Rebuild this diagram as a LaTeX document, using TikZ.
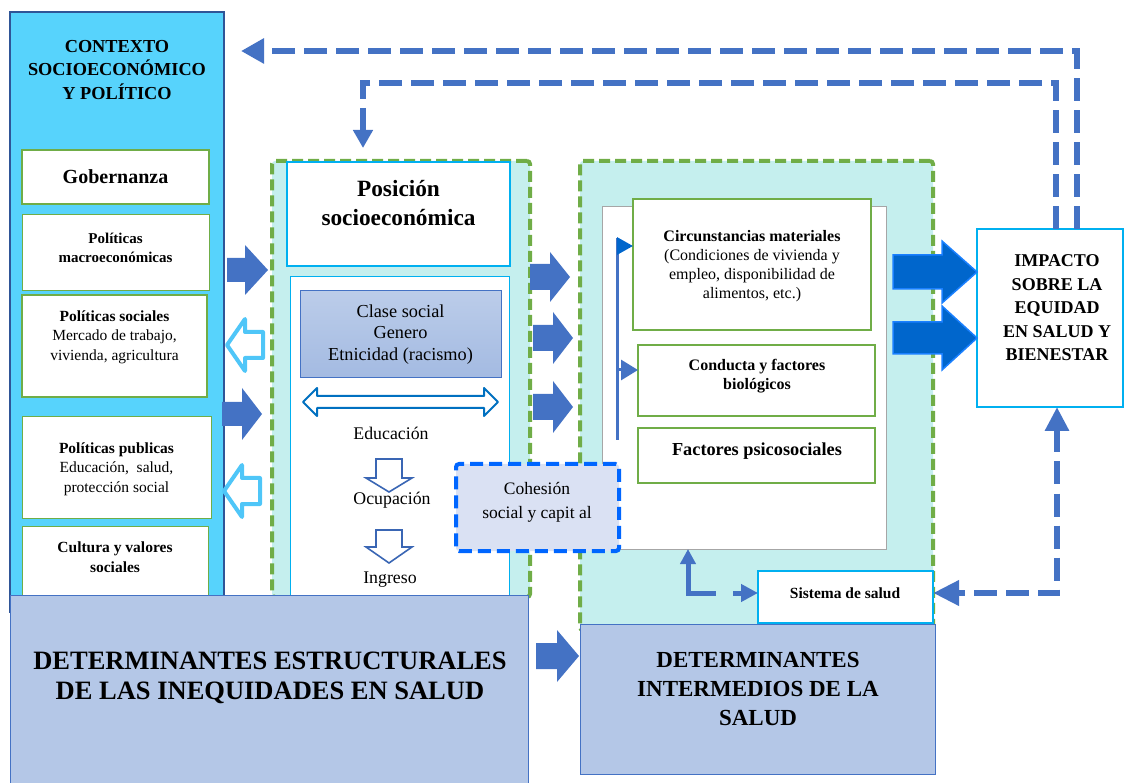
\documentclass[tikz,border=0pt]{standalone}
\usepackage{fontspec}
\setmainfont{Liberation Serif}
\usetikzlibrary{arrows.meta,calc}
\definecolor{ctxblue}{HTML}{57D3FC}
\definecolor{ctxborder}{HTML}{2F5597}
\definecolor{grn}{HTML}{70AD47}
\definecolor{cyanfill}{HTML}{C5EFEE}
\definecolor{cyanline}{HTML}{00B0F0}
\definecolor{arrblue}{HTML}{4472C4}
\definecolor{brightblue}{HTML}{0066CC}
\definecolor{brightedge}{HTML}{1A80FF}
\definecolor{hollowblue}{HTML}{4FC6F8}
\definecolor{cohline}{HTML}{0066FF}
\definecolor{cohfill}{HTML}{DAE1F3}
\definecolor{detfill}{HTML}{B4C7E7}
\definecolor{grayline}{HTML}{A6A6A6}
\definecolor{dblline}{HTML}{0070C0}
\definecolor{downline}{HTML}{3A66B4}
\newcommand{\fs}[2]{\fontsize{#1}{#2}\selectfont}
% horizontal block arrow: style, tail x, tip x, centre y, shaft half, head half, head base x
\newcommand{\harrow}[7]{\path[#1] (#2,#4-#5) -- (#7,#4-#5) -- (#7,#4-#6) -- (#3,#4) -- (#7,#4+#6) -- (#7,#4+#5) -- (#2,#4+#5) -- cycle;}
% vertical block arrow: style, top y, tip y, centre x, shaft half, head half, head base y
\newcommand{\varrow}[7]{\path[#1] (#4-#5,#2) -- (#4-#5,#7) -- (#4-#6,#7) -- (#4,#3) -- (#4+#6,#7) -- (#4+#5,#7) -- (#4+#5,#2) -- cycle;}
\begin{document}
\begin{tikzpicture}[x=1pt,y=-1pt,
  boxbase/.style={rectangle, inner sep=0pt, outer sep=0pt},
  wbox/.style={boxbase, fill=white},
  greenbox/.style={boxbase, fill=cyanfill, draw=grn, line width=4pt, dash pattern=on 11pt off 5pt, rounded corners=3pt},
  darkar/.style={fill=arrblue},
  hollow/.style={draw=hollowblue, line width=4pt, fill=white, line join=round},
  bigar/.style={fill=brightblue, draw=brightedge, line width=1.5pt},
  downar/.style={draw=downline, line width=1.6pt, fill=white},
  maindash/.style={draw=arrblue, line width=6.5pt, dash pattern=on 23pt off 9pt},
  smalldash/.style={draw=arrblue, line width=5pt, dash pattern=on 58pt off 17pt},
  vline/.style={draw=arrblue, line width=3pt},
  txt/.style={inner sep=0pt, align=center}
]
\useasboundingbox (0,0) rectangle (1125,783);
\clip (0,0) rectangle (1125,783);

% ---------- left column ----------
\node[boxbase, fill=ctxblue, draw=ctxborder, line width=2.5pt, minimum width=214pt, minimum height=600pt, anchor=north west] (ctx) at (10,12) {};
\node[txt, font=\bfseries\fs{18.3}{23.5}] (ctxt) at (117,70) {CONTEXTO\\SOCIOECONÓMICO\\Y POLÍTICO};

\node[wbox, draw=grn, line width=2.5pt, minimum width=187pt, minimum height=54pt] (gob) at (115.5,177) {};
\node[txt, font=\bfseries\fs{20}{24}] (gobt) at (gob.center) {Gobernanza};

\node[wbox, draw=grn, line width=1pt, minimum width=187pt, minimum height=76pt] (macro) at (115.5,253) {};
\node[txt, font=\bfseries\fs{15}{19.5}] (macrot) at (115.5,248) {Políticas\\macroeconómicas};

\node[wbox, draw=grn, line width=1.5pt, minimum width=185pt, minimum height=102pt] (soc) at (114.5,346) {};
\node[txt, font=\fs{15.5}{19.5}] (soct) at (114.5,337) {\textbf{Políticas sociales}\\Mercado de trabajo,\\vivienda, agricultura};

\node[wbox, draw=grn, line width=1pt, minimum width=189pt, minimum height=101pt] (pub) at (116.5,467.5) {};
\node[txt, font=\fs{15.5}{19.5}] (pubt) at (116.5,469) {\textbf{Políticas publicas}\\Educación,\ \ salud,\\protección social};

\node[wbox, draw=grn, line width=1pt, minimum width=186pt, minimum height=84pt] (cult) at (115,568) {};
\node[txt, font=\bfseries\fs{15.5}{19.5}] (cultt) at (115,557) {Cultura y valores\\sociales};

% ---------- middle block ----------
\node[greenbox, minimum width=258pt, minimum height=436pt] (mid) at (401,379) {};
\node[wbox, draw=cyanline, line width=2pt, minimum width=223pt, minimum height=104pt] (pos) at (398.5,214) {};
\node[txt, font=\bfseries\fs{23.3}{29}] (post) at (398.5,203) {Posición\\socioeconómica};
\node[wbox, draw=cyanline, line width=1pt, minimum width=219pt, minimum height=323pt] (inner) at (399.5,438.5) {};
\node[boxbase, top color=detfill!90!white, bottom color=detfill!85!arrblue, draw=arrblue, line width=1pt, minimum width=201pt, minimum height=87pt] (clase) at (400.5,334.5) {};
\node[txt, font=\fs{18.3}{21.5}] (claset) at (clase.center) {Clase social\\Genero\\Etnicidad (racismo)};
\path[draw=dblline, line width=2pt, fill=white, line join=round] (303,402) -- (317,388) -- (317,396) -- (484,396) -- (484,388) -- (498,402) -- (484,416) -- (484,408) -- (317,408) -- (317,416) -- cycle;
\node[txt, font=\fs{17.8}{21}] (edu) at (391,433) {Educación};
\varrow{downar}{459}{492}{389}{13}{23}{478}
\node[txt, font=\fs{17.8}{21}] (ocu) at (392,500) {Ocupación};
\varrow{downar}{530}{563}{389}{13}{23}{547}
\node[txt, font=\fs{17.8}{21}] (ing) at (390,580) {Ingreso};

% ---------- right block ----------
\node[greenbox, minimum width=353pt, minimum height=469pt] (rgt) at (756.5,395.5) {};
\node[wbox, draw=grayline, line width=1pt, minimum width=284pt, minimum height=342pt] (rwhite) at (744,378) {};
\node[wbox, draw=grn, line width=2pt, minimum width=238pt, minimum height=131pt] (circ) at (752,264.5) {};
\node[txt, font=\fs{16}{19}] (circt) at (752,266) {\textbf{Circunstancias materiales}\\(Condiciones de vivienda y\\empleo, disponibilidad de\\alimentos, etc.)};
\node[wbox, draw=grn, line width=2pt, minimum width=237pt, minimum height=71pt] (cond) at (756.5,380.5) {};
\node[txt, font=\bfseries\fs{16}{19.5}] (condt) at (757,376) {Conducta y factores\\biológicos};
\node[wbox, draw=grn, line width=2pt, minimum width=237pt, minimum height=55pt] (fact) at (756.5,455.5) {};
\node[txt, font=\bfseries\fs{18.3}{21}] (factt) at (757,451) {Factores psicosociales};

\coordinate (vtop) at (617,238);
\coordinate (vbot) at (617,440);
\coordinate (f1) at (617,246);
\coordinate (f2) at (617,370);
\draw[vline] (vbot) -- (vtop);
\draw[vline, draw=brightblue, -{Triangle[length=16pt,width=17pt]}] (f1) -- (f1 -| circ.west);
\draw[vline, -{Triangle[length=17pt,width=20pt]}] (f2) -- (f2 -| cond.west);

\node[wbox, draw=cyanline, line width=2pt, minimum width=175pt, minimum height=52pt] (sist) at (845.5,597) {};
\node[txt, font=\bfseries\fs{15.5}{18}] (sistt) at (845,593) {Sistema de salud};

% ---------- cohesion ----------
\node[boxbase, fill=cohfill, draw=cohline, line width=4pt, dash pattern=on 13pt off 6pt, rounded corners=3pt, minimum width=163pt, minimum height=87pt] (coh) at (537.5,507.5) {};
\node[txt, font=\fs{17.5}{24}] (coht) at (537,502) {Cohesión\\social y capit al};

% ---------- block arrows ----------
\harrow{darkar}{227}{268}{270}{12}{25}{245}
\harrow{hollow}{263}{227}{345}{13}{26}{245}
\harrow{darkar}{222}{262}{414}{12}{26}{242}
\harrow{hollow}{260}{224}{491}{13}{26}{242}
\harrow{darkar}{530}{570}{277}{13}{25}{550}
\harrow{darkar}{533}{573}{338}{13}{26}{553}
\harrow{darkar}{533}{573}{407}{13}{26}{553}

% ---------- impact ----------
\node[wbox, draw=cyanline, line width=2pt, minimum width=146pt, minimum height=178pt] (impact) at (1050,318) {};
\node[txt, font=\bfseries\fs{18}{23.5}] (impactt) at (1057,308) {IMPACTO\\SOBRE LA\\EQUIDAD\\EN SALUD Y\\BIENESTAR};
\harrow{bigar}{893}{977}{272}{17}{31}{942}
\harrow{bigar}{893}{977}{338}{16}{32}{942}

% ---------- dashed feedback connectors ----------
\coordinate (t1) at (241,51);
\coordinate (b2) at (363,83);
\coordinate (t2) at (363,148);
\draw[maindash, -{Triangle[length=23pt,width=24pt]}] ($(impact.north west)+(100,0)$) |- (t1);
\draw[maindash, -{Triangle[length=18pt,width=19pt]}] ($(impact.north west)+(79,0)$) |- (b2) -- (t2);
\draw[maindash, {Triangle[length=24pt,width=23pt]}-{Triangle[length=26pt,width=24pt]}] ($(impact.south west)+(80,0)$) |- ([yshift=4pt]sist.east);
\draw[smalldash, {Triangle[length=15pt,width=15pt]}-{Triangle[length=17pt,width=17pt]}] ([xshift=-56pt]rwhite.south) |- ([yshift=4pt]sist.west);

% ---------- bottom boxes ----------
\node[boxbase, fill=detfill, draw=arrblue, line width=1pt, minimum width=518pt, minimum height=200pt, anchor=north west] (estr) at (10,595) {};
\node[txt, font=\bfseries\fs{26.5}{30}] (estrt) at (270,678) {DETERMINANTES ESTRUCTURALES\\DE LAS INEQUIDADES EN SALUD};
\node[boxbase, fill=detfill, draw=arrblue, line width=1pt, minimum width=355pt, minimum height=150pt, anchor=north west] (interm) at (580,624) {};
\node[txt, font=\bfseries\fs{23}{29}] (intermt) at (758,689) {DETERMINANTES\\INTERMEDIOS DE LA\\SALUD};
\harrow{darkar}{536}{579}{656}{13}{26}{557}
\end{tikzpicture}
\end{document}
